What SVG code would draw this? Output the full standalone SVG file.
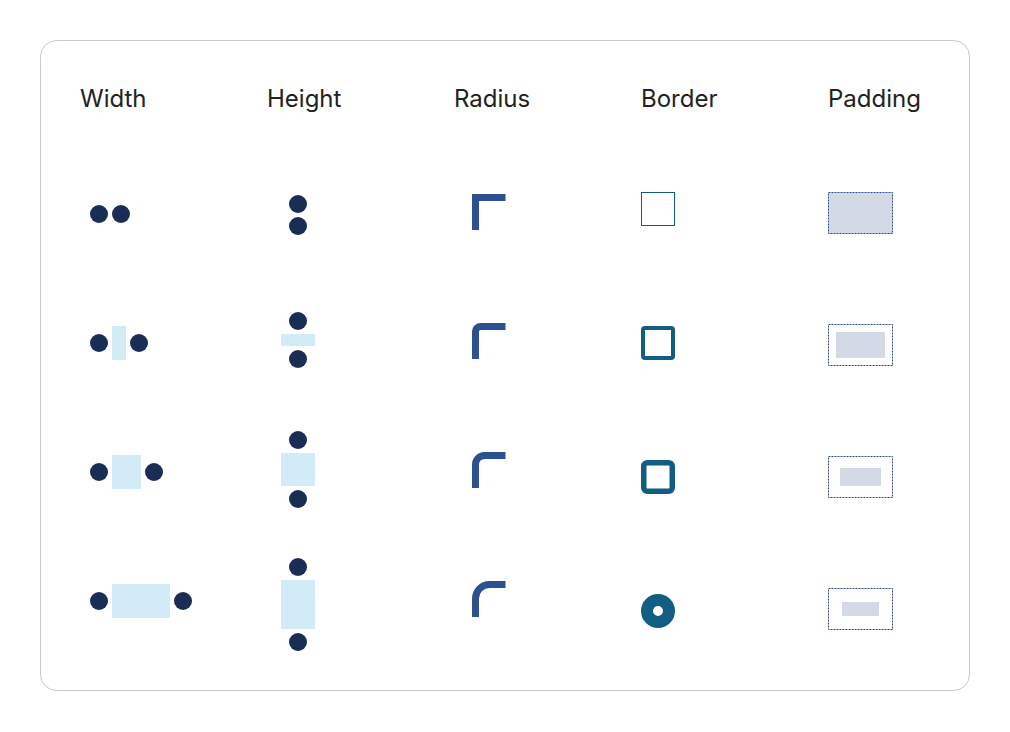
<svg xmlns="http://www.w3.org/2000/svg" width="1010" height="732" viewBox="0 0 1010 732">
<style>
.hdr{font-family:Inter,"Liberation Sans",sans-serif;font-size:24px;fill:#222;}
.dot{fill:#1a2d55;}
.lb{fill:#d3ebf6;}
.rad{fill:none;stroke:#2d5090;stroke-width:7;}
.bor{fill:none;stroke:#125e82;}
.pad{fill:none;stroke:#2d4a90;stroke-width:1;stroke-dasharray:2 1;}
.pin{fill:#d4dae5;}
</style>
<rect x="0" y="0" width="1010" height="732" fill="#fff"/>
<rect id="card" x="40.5" y="40.5" width="929" height="650" rx="16" fill="#fff" stroke="#c8c8c8"/>
<g id="headers">
<text class="hdr" x="80" y="107">Width</text>
<text class="hdr" x="267" y="107">Height</text>
<text class="hdr" x="454" y="107">Radius</text>
<text class="hdr" x="641" y="107">Border</text>
<text class="hdr" x="828" y="107">Padding</text>
</g>
<g id="width-col">
<circle class="dot" cx="99" cy="214" r="9"/><circle class="dot" cx="121" cy="214" r="9"/>
<rect class="lb" x="112" y="326" width="14" height="34"/>
<circle class="dot" cx="99" cy="343" r="9"/><circle class="dot" cx="139" cy="343" r="9"/>
<rect class="lb" x="112" y="455" width="29" height="34"/>
<circle class="dot" cx="99" cy="472" r="9"/><circle class="dot" cx="154" cy="472" r="9"/>
<rect class="lb" x="112" y="584" width="58" height="34"/>
<circle class="dot" cx="99" cy="601" r="9"/><circle class="dot" cx="183" cy="601" r="9"/>
</g>
<g id="height-col">
<circle class="dot" cx="298" cy="204" r="9"/><circle class="dot" cx="298" cy="226" r="9"/>
<rect class="lb" x="281" y="334" width="34" height="12"/>
<circle class="dot" cx="298" cy="321" r="9"/><circle class="dot" cx="298" cy="359" r="9"/>
<rect class="lb" x="281" y="453" width="34" height="33"/>
<circle class="dot" cx="298" cy="440" r="9"/><circle class="dot" cx="298" cy="499" r="9"/>
<rect class="lb" x="281" y="580" width="34" height="49"/>
<circle class="dot" cx="298" cy="567" r="9"/><circle class="dot" cx="298" cy="642" r="9"/>
</g>
<g id="radius-col">
<path class="rad" d="M475.5,230 V197.5 H505.5"/>
<path class="rad" d="M475.5,359 V331.5 A5,5 0 0 1 480.5,326.5 H505.5"/>
<path class="rad" d="M475.5,488 V464.5 A9,9 0 0 1 484.5,455.5 H505.5"/>
<path class="rad" d="M475.5,617 V598.5 A14,14 0 0 1 489.5,584.5 H505.5"/>
</g>
<g id="border-col">
<rect class="bor" x="641.5" y="192.5" width="33" height="33" stroke-width="1"/>
<rect class="bor" x="643" y="328" width="30" height="30" rx="2" stroke-width="4"/>
<rect class="bor" x="643.75" y="462.75" width="28.5" height="28.5" rx="3.5" stroke-width="5.5"/>
<circle class="bor" cx="658" cy="611" r="11" stroke-width="12"/>
</g>
<g id="padding-col">
<rect class="pin" x="828.5" y="192.5" width="64" height="41"/>
<rect class="pad" x="828.5" y="192.5" width="64" height="41"/>
<rect class="pin" x="836" y="332" width="49" height="26"/>
<rect class="pad" x="828.5" y="324.5" width="64" height="41"/>
<rect class="pin" x="840" y="468" width="41" height="18"/>
<rect class="pad" x="828.5" y="456.5" width="64" height="41"/>
<rect class="pin" x="842" y="602" width="37" height="14"/>
<rect class="pad" x="828.5" y="588.5" width="64" height="41"/>
</g>
</svg>
